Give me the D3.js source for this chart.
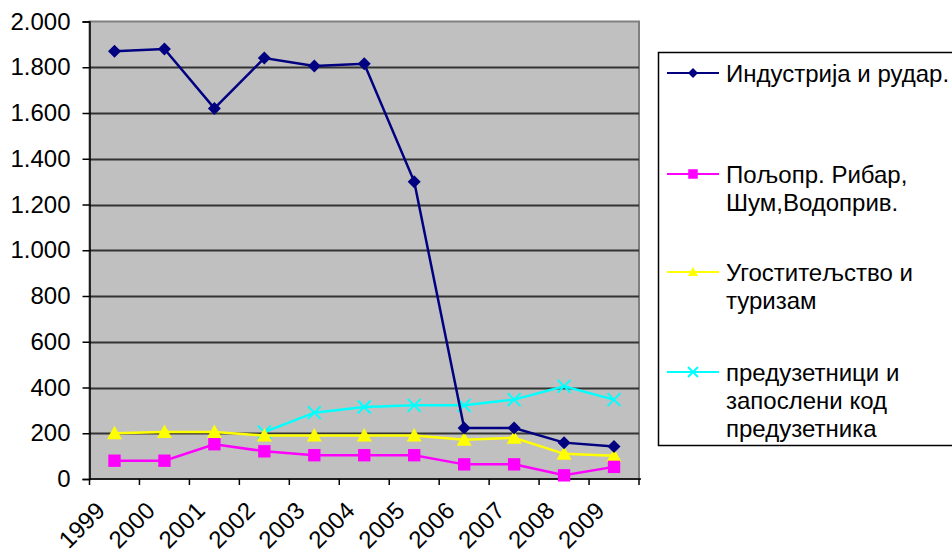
<!DOCTYPE html>
<html>
<head>
<meta charset="utf-8">
<script src="https://cdn.jsdelivr.net/npm/d3@7"></script>
<style>
  body { margin: 0; background: #fff; }
  text { font-family: "Liberation Sans", Arial, sans-serif; fill: #000; }
</style>
</head>
<body>
<div id="container"></div>
<script>
// Data
const years = ["1999", "2000", "2001", "2002", "2003", "2004", "2005", "2006", "2007", "2008", "2009"];
const industry = [1870, 1880, 1620, 1840, 1805, 1815, 1300, 223, 223, 159, 142];
const agriculture = [80, 80, 152, 121, 104, 104, 104, 64, 64, 16, 53];
const tourism = [200, 205, 205, 190, 190, 190, 190, 172, 180, 110, 102];
const entrepreneurs = [null, null, null, 205, 290, 315, 322, 322, 347, 405, 347];
const yTicks = [0, 200, 400, 600, 800, 1000, 1200, 1400, 1600, 1800, 2000];

const series = [
  { name: ["Индустрија и рудар."], values: industry, color: "#000080", marker: "diamond" },
  { name: ["Пољопр. Рибар,", "Шум,Водоприв."], values: agriculture, color: "#ff00ff", marker: "square" },
  { name: ["Угоститељство и", "туризам"], values: tourism, color: "#ffff00", marker: "triangle" },
  { name: ["предузетници и", "запослени код", "предузетника"], values: entrepreneurs, color: "#00ffff", marker: "cross" }
];

const W = 952, H = 557;
const plot = { left: 89.5, top: 21.5, right: 639, bottom: 479 };
const fontSize = "24px";

const svg = d3.select("#container").append("svg")
  .attr("width", W).attr("height", H);

const x = d3.scaleBand().domain(years).range([plot.left, plot.right]);
const y = d3.scaleLinear().domain([0, 2000]).range([plot.bottom, plot.top]);
const fmt = v => d3.format(",")(v).replace(/,/g, ".");

// plot background
svg.append("rect")
  .attr("x", plot.left).attr("y", plot.top)
  .attr("width", plot.right - plot.left).attr("height", plot.bottom - plot.top)
  .attr("fill", "#c0c0c0").attr("stroke", "#808080").attr("stroke-width", 2);

// gridlines
svg.append("g").selectAll("line")
  .data(yTicks.filter(d => d > 0 && d < 2000))
  .enter().append("line")
  .attr("x1", plot.left).attr("x2", plot.right)
  .attr("y1", d => Math.round(y(d)) + 0.5).attr("y2", d => Math.round(y(d)) + 0.5)
  .attr("stroke", "#333").attr("stroke-width", 2);

// y axis
const yAxis = d3.axisLeft(y).tickValues(yTicks).tickFormat(fmt).tickSize(7).tickPadding(12);
const gy = svg.append("g").attr("transform", "translate(" + plot.left + ",0)").call(yAxis);
gy.select(".domain").attr("stroke", "#000").attr("stroke-width", 1.5);
gy.selectAll(".tick line").attr("stroke", "#000").attr("stroke-width", 1.5);
gy.selectAll("text").style("font-size", fontSize).attr("fill", "#000");

// x axis: ticks at category boundaries
const gx = svg.append("g").attr("transform", "translate(0," + plot.bottom + ")");
gx.append("line").attr("x1", plot.left).attr("x2", plot.right + 2)
  .attr("stroke", "#000").attr("stroke-width", 1.5);
gx.selectAll(".bt").data(years.concat(["end"])).enter().append("line")
  .attr("x1", (d, i) => plot.left + i * x.step()).attr("x2", (d, i) => plot.left + i * x.step())
  .attr("y1", 0).attr("y2", 6)
  .attr("stroke", "#000").attr("stroke-width", 1.5);
gx.selectAll("text").data(years).enter().append("text")
  .attr("text-anchor", "end")
  .attr("transform", d => "translate(" + (x(d) + x.bandwidth() / 2 - 8) + ",33) rotate(-45)")
  .style("font-size", fontSize)
  .text(d => d);

// markers
function marker(g, type, color, s) {
  if (type === "diamond") {
    g.append("path").attr("d", `M0,${-s}L${s},0L0,${s}L${-s},0Z`).attr("fill", color);
  } else if (type === "square") {
    g.append("rect").attr("x", -s * 0.95).attr("y", -s * 0.95).attr("width", s * 1.9).attr("height", s * 1.9).attr("fill", color);
  } else if (type === "triangle") {
    g.append("path").attr("d", `M0,${-s}L${s},${s * 0.8}L${-s},${s * 0.8}Z`).attr("fill", color);
  } else {
    g.append("path").attr("d", `M${-s},${-s}L${s},${s}M${-s},${s}L${s},${-s}`)
      .attr("stroke", color).attr("stroke-width", 2).attr("fill", "none");
  }
}

const line = d3.line()
  .defined(d => d.v !== null)
  .x(d => x(d.year) + x.bandwidth() / 2)
  .y(d => y(d.v));

// draw series (last series first so industry is on top)
series.slice().reverse().forEach(s => {
  const pts = years.map((yr, i) => ({ year: yr, v: s.values[i] }));
  svg.append("path").datum(pts)
    .attr("d", line).attr("fill", "none")
    .attr("stroke", s.color).attr("stroke-width", 2.5);
  pts.filter(d => d.v !== null).forEach(d => {
    const g = svg.append("g").attr("transform", "translate(" + (x(d.year) + x.bandwidth() / 2) + "," + y(d.v) + ")");
    marker(g, s.marker, s.color, s.marker === "triangle" ? 7.5 : 6.5);
  });
});

// legend
const legend = svg.append("g");
legend.append("rect").attr("x", 658.5).attr("y", 52.5).attr("width", 300).attr("height", 393)
  .attr("fill", "#fff").attr("stroke", "#000").attr("stroke-width", 1.5);
const legendY = [73, 174, 272, 372];
series.forEach((s, i) => {
  const g = legend.append("g").attr("transform", "translate(0," + legendY[i] + ")");
  g.append("line").attr("x1", 667).attr("x2", 719).attr("y1", 0).attr("y2", 0)
    .attr("stroke", s.color).attr("stroke-width", 2);
  const m = g.append("g").attr("transform", "translate(693,0)");
  marker(m, s.marker, s.color, 5);
  s.name.forEach((t, j) => {
    g.append("text").attr("x", 726).attr("y", j * 28).attr("dy", "0.36em")
      .style("font-size", fontSize).text(t);
  });
});
</script>
</body>
</html>
